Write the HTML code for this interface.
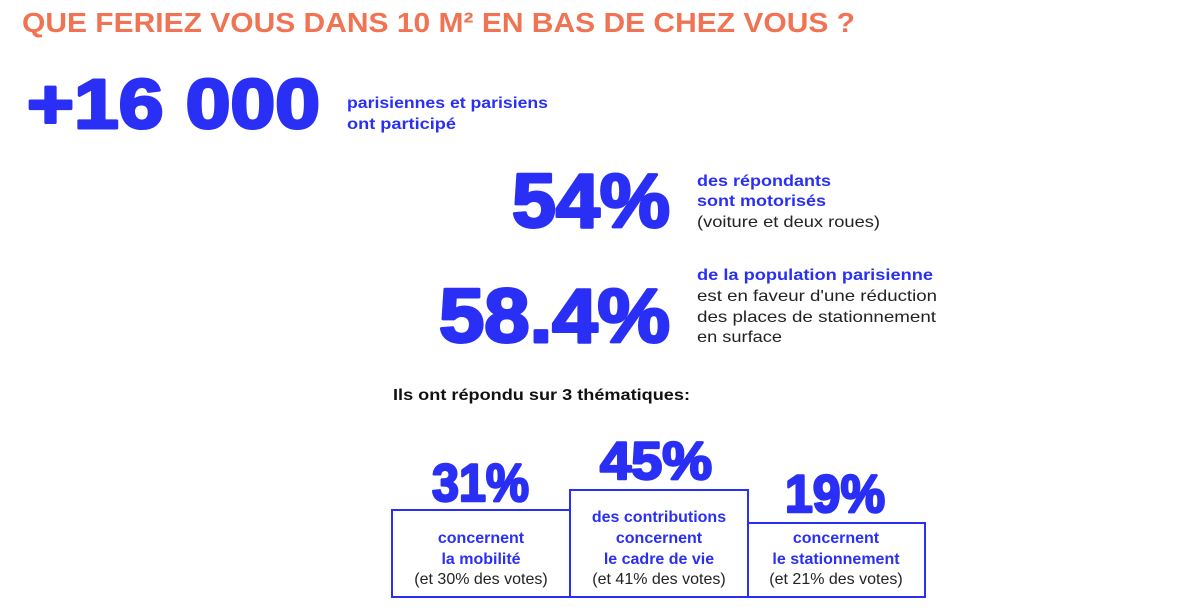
<!DOCTYPE html>
<html><head><meta charset="utf-8"><style>
html,body{margin:0;padding:0;background:#fff;width:1200px;height:613px;overflow:hidden}
svg{display:block}
.t{font-family:"Liberation Sans",sans-serif}
</style></head><body>
<svg width="1200" height="613" xmlns="http://www.w3.org/2000/svg" class="t">
<text x="22" y="32" fill="#f07453" font-size="28" font-weight="bold" textLength="833" lengthAdjust="spacingAndGlyphs">QUE FERIEZ VOUS DANS 10 M² EN BAS DE CHEZ VOUS ?</text>
<g fill="#2a2ff5" font-weight="bold">
<g stroke="#2a2ff5" stroke-width="3" stroke-linejoin="round">
<text x="27" y="128" font-size="70" textLength="293" lengthAdjust="spacingAndGlyphs">+16 000</text>
<text x="512" y="227" font-size="76" textLength="158" lengthAdjust="spacingAndGlyphs">54%</text>
<text x="439" y="342" font-size="76" textLength="231" lengthAdjust="spacingAndGlyphs">58.4%</text>
<text x="432" y="501" font-size="53" textLength="97" lengthAdjust="spacingAndGlyphs" stroke-width="2.5">31%</text>
<text x="600" y="479" font-size="53" textLength="112" lengthAdjust="spacingAndGlyphs" stroke-width="2.5">45%</text>
<text x="785" y="512" font-size="53" textLength="100" lengthAdjust="spacingAndGlyphs" stroke-width="2.5">19%</text>
</g>
<text x="347" y="108" font-size="16" textLength="201" lengthAdjust="spacingAndGlyphs">parisiennes et parisiens</text>
<text x="347" y="129" font-size="16" textLength="109" lengthAdjust="spacingAndGlyphs">ont participé</text>
<text x="697" y="186" font-size="16" textLength="134" lengthAdjust="spacingAndGlyphs">des répondants</text>
<text x="697" y="206" font-size="16" textLength="129" lengthAdjust="spacingAndGlyphs">sont motorisés</text>
<text x="697" y="280" font-size="16" textLength="236" lengthAdjust="spacingAndGlyphs">de la population parisienne</text>
</g>
<g fill="#222" font-size="16">
<text x="697" y="227" textLength="183" lengthAdjust="spacingAndGlyphs">(voiture et deux roues)</text>
<text x="697" y="301" textLength="240" lengthAdjust="spacingAndGlyphs">est en faveur d'une réduction</text>
<text x="697" y="322" textLength="239" lengthAdjust="spacingAndGlyphs">des places de stationnement</text>
<text x="697" y="342" textLength="85" lengthAdjust="spacingAndGlyphs">en surface</text>
<text x="393" y="400" font-weight="bold" fill="#111" textLength="297" lengthAdjust="spacingAndGlyphs">Ils ont répondu sur 3 thématiques:</text>
</g>
<g fill="none" stroke="#2a2ff5" stroke-width="2">
<rect x="392" y="510" width="178" height="87"/>
<rect x="570" y="490" width="178" height="107"/>
<rect x="748" y="523" width="177" height="74"/>
</g>
<g font-size="16" text-anchor="middle">
<g fill="#2a2ff5" font-weight="bold">
<text x="481" y="543">concernent</text>
<text x="481" y="564">la mobilité</text>
<text x="659" y="522">des contributions</text>
<text x="659" y="543">concernent</text>
<text x="659" y="564">le cadre de vie</text>
<text x="836" y="543">concernent</text>
<text x="836" y="564">le stationnement</text>
</g>
<g fill="#222">
<text x="481" y="584">(et 30% des votes)</text>
<text x="659" y="584">(et 41% des votes)</text>
<text x="836" y="584">(et 21% des votes)</text>
</g>
</g>
</svg>
</body></html>
